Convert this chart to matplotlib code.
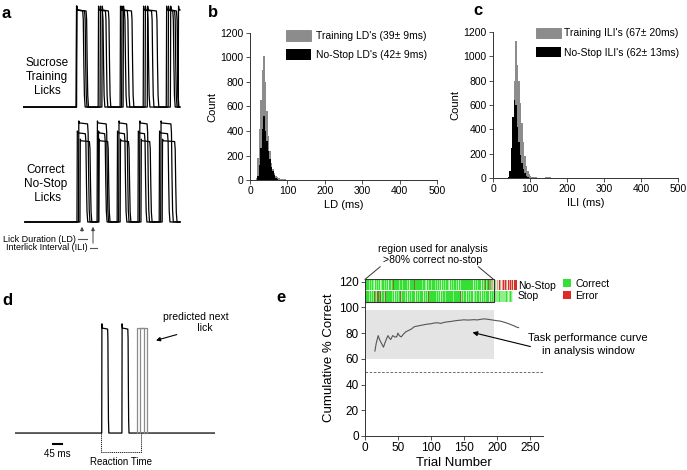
import matplotlib.pyplot as plt
import numpy as np
from matplotlib.patches import Patch, Rectangle

plt.rcParams['font.family'] = ['Liberation Sans', 'DejaVu Sans']

W, H = 687, 470

# ---- panel a: lick traces (ms onsets / offsets) ----
train_onsets = [[143, 202, 261, 323, 385],
                [144, 207, 265, 328, 390],
                [143, 212, 269, 334, 396, 417]]
train_offsets = [[162, 223, 274, 347, 404],
                 [167, 215, 282, 336, 409],
                 [171, 231, 293, 360, 414, 999]]
train_amps = [1.0, 1.0, 1.0]

nostop_onsets = [[149, 199, 257, 313, 370],
                 [145, 202, 253, 309, 366],
                 [153, 204, 261, 317, 374]]
nostop_offsets = [[175, 225, 280, 335, 399],
                  [169, 221, 274, 328, 390],
                  [180, 229, 285, 342, 409]]
nostop_amps = [1.0, 0.9, 0.82]
trace_end_a = 422

# ---- panel b: lick duration histograms (4 ms bins) ----
ld_edges = [16, 20, 24, 28, 32, 36, 40, 44, 48, 52, 56, 60, 64, 68, 72, 76,
            80, 84, 88, 92, 96, 100, 104, 108, 112, 116]
ld_training = [20, 180, 420, 650, 900, 1010, 800, 560, 360, 240, 140, 90, 55,
               35, 22, 15, 10, 8, 6, 5, 4, 3, 2, 2, 1, 1]
ld_nostop = [0, 30, 120, 260, 420, 520, 400, 320, 240, 170, 110, 70, 40, 20,
             8, 3, 1, 0, 0, 0, 0, 0, 0, 0, 0, 0]

# ---- panel c: interlick interval histograms (4 ms bins) ----
ili_edges = [40, 44, 48, 52, 56, 60, 64, 68, 72, 76, 80, 84, 88, 92, 96, 100,
             104, 108, 112, 116, 120, 124, 128, 132, 136, 140, 144, 148, 152, 156]
ili_training = [10, 40, 110, 400, 800, 1130, 930, 800, 620, 450, 300, 180, 100,
                55, 30, 18, 12, 8, 6, 5, 4, 3, 3, 3, 4, 6, 8, 8, 5, 3]
ili_nostop = [5, 60, 250, 500, 640, 600, 420, 300, 190, 120, 70, 40, 20, 8, 3,
              1, 0, 0, 0, 0, 0, 0, 0, 0, 0, 0, 0, 0, 0, 0]

# ---- panel d: example trial ----
d_onsets = [464, 572]
d_offsets = [497, 605]
predicted_onsets = [653, 670]
predicted_offsets = [691, 707]
trace_end_d = 1070
reaction_start, reaction_end = 459, 675

# ---- panel e: performance ----
nostop_cells = ("GLGGWGLGGL" "GGLGWGGLGG" "LGGWGLGGGL" "GGLGGWLGGG" "LGGBGLGGWG"
                "GGLGGGLWGG" "LGGGLGGWGG" "GLGGGBGLGG" "WGGLGGGLGG" "GLGWGGLGGG"
                "LGGGWGLGGL" "GGGLGGWGGL" "GGLGGGLGWG" "GLGGLGGGLG" "GWGGLGGGLG"
                "GLGGBGGLGB" "GGLGWGGLGG" "LGGGLGWGGL" "GGBGLGGBGL" "GPLPWPPLPW"
                "PPWPRPPWPR" "RPRRPRWRRP" "RRPRRWRPRR")
stop_cells = ("GLGGWGLGGL" "GGLGBGBLBG" "BGGBGLGGGL" "GBGLGGWGGB" "GLGGWBGLGG"
              "LGGBGLGBGG" "GLGGWGGLGG" "LGGGLGWGGL" "GGLGGGLGWG" "GLGGLGBGLG"
              "GWGGLGGGLG" "GLGGWGGLGG" "GGLGWGGLGG" "LGGGLGWGGL" "GGLGBGLGGL"
              "GLGWGGLGGG" "LGGGWGLGGL" "GGGLGGWGGL" "GGLGGGLGWG" "GLGGLLWLGL"
              "LWLLGLWLLG" "LLWLGLLWLL" "GLLW")
cell_colors = {'G': '#35e035', 'L': '#8eee88', 'W': '#d4f6cf',
               'B': '#8a6a3c', 'P': '#e8a2a2', 'R': '#e02a2a'}

curve_trials = [15, 17, 20, 22, 24, 26, 28, 30, 33, 35, 37, 39, 42, 45, 48, 50,
                52, 55, 58, 62, 66, 70, 75, 80, 85, 90, 95, 100, 105, 110, 115,
                120, 125, 130, 135, 140, 145, 150, 155, 160, 165, 170, 175, 180,
                185, 190, 195, 200, 205, 210, 215, 220, 225, 230, 233]
curve_pct = [66, 72, 78, 75, 73, 71, 69, 72, 76, 78, 76, 75, 78, 77, 77, 80,
             78, 77, 79, 81, 82, 83, 85, 85.5, 86, 86.5, 87, 87.2, 87.8, 88, 87.5,
             88.3, 88.7, 89, 89.4, 89.8, 90, 90.3, 90.1, 90.2, 90.4, 90.2, 90.6, 91,
             90.8, 90.4, 90, 89.6, 89.3, 88.6, 87.8, 86.8, 85.8, 84.6, 84.2]
window_start, window_end = 0, 195
window_low, window_high = 60, 98
chance = 50


def lick_trace(onsets, offsets, amp, t_end, hook=0.0, t_start=0):
    # square-ish lick pulses: steep rise, small hook at top, rounded fall
    t, y = [t_start], [0]
    for on, off in zip(onsets, offsets):
        if off >= t_end:
            t += [on, on + 1, on + 2.5, t_end]
            y += [0, amp * (1 + hook), amp, amp]
            return t, y
        t += [on, on + 1, on + 2.5, off - 1.5, off, off + 1.5, off + 3, off + 5]
        y += [0, amp * (1 + hook), amp, amp * 0.99, amp * 0.9, amp * 0.45, amp * 0.12, 0]
    t.append(t_end)
    y.append(0)
    return t, y


fig = plt.figure(figsize=(W / 100, H / 100), dpi=100)


def px_axes(left, top, right, bottom):
    return fig.add_axes([left / W, 1 - bottom / H, (right - left) / W, (bottom - top) / H])


# overlay for labels in pixel coordinates
ov = fig.add_axes([0, 0, 1, 1])
ov.set_xlim(0, W)
ov.set_ylim(H, 0)
ov.axis('off')
for letter, (x, y) in zip('abcde', [(2, 18), (208, 17), (473, 15), (2, 305), (276, 302)]):
    ov.text(x, y, letter, fontsize=12, fontweight='bold', ha='left', va='baseline')

ov.text(47, 77, "Sucrose\nTraining\nLicks", fontsize=8.5, ha='center', va='center', linespacing=1.2)
ov.text(46, 184, "Correct\nNo-Stop\n Licks", fontsize=8.5, ha='center', va='center', linespacing=1.2)
ov.text(76, 239, "Lick Duration (LD)", fontsize=6.5, ha='right', va='center')
ov.text(88, 248, "Interlick Interval (ILI)", fontsize=6.5, ha='right', va='center')
ov.plot([78, 87], [239, 239], color='#555', lw=0.8)
ov.plot([90, 97], [248, 248], color='#555', lw=0.8)
ov.annotate('', xy=(82, 224), xytext=(82, 234),
            arrowprops=dict(arrowstyle='-|>', color='#444', lw=0.7, mutation_scale=5))
ov.annotate('', xy=(93, 224), xytext=(93, 246),
            arrowprops=dict(arrowstyle='-|>', color='#444', lw=0.7, mutation_scale=5))

# ---- panel a ----
ax_top = px_axes(23, 0, 183, 115)
for on, off, amp in zip(train_onsets, train_offsets, train_amps):
    t, y = lick_trace(on, off, amp, trace_end_a, hook=0.04)
    ax_top.plot(t, y, color='black', lw=0.9)
ax_top.set_xlim(0, 430)
ax_top.set_ylim(-0.082, 1.103)
ax_top.axis('off')

ax_bot = px_axes(23, 115, 183, 230)
for on, off, amp in zip(nostop_onsets, nostop_offsets, nostop_amps):
    t, y = lick_trace(on, off, amp, trace_end_a, hook=0.02, t_start=5)
    ax_bot.plot(t, y, color='black', lw=0.9)
ax_bot.set_xlim(0, 430)
ax_bot.set_ylim(-0.081, 1.08)
ax_bot.axis('off')


def style_axes(ax, fs):
    for s in ['top', 'right']:
        ax.spines[s].set_visible(False)
    for s in ['left', 'bottom']:
        ax.spines[s].set_linewidth(0.7)
        ax.spines[s].set_color('#333')
    ax.tick_params(direction='out', length=3, width=0.6, labelsize=fs, pad=1.5, color='#333')


# ---- panel b ----
ax_b = px_axes(250, 33, 437, 180)
ax_b.bar(ld_edges, ld_training, width=4, align='edge', color='#8c8c8c', linewidth=0)
ax_b.bar(ld_edges, ld_nostop, width=4, align='edge', color='black', linewidth=0)
ax_b.set_xlim(0, 500)
ax_b.set_ylim(0, 1200)
ax_b.set_xticks([0, 100, 200, 300, 400, 500])
ax_b.set_yticks([0, 200, 400, 600, 800, 1000, 1200])
style_axes(ax_b, 7.5)
ax_b.set_xlabel('LD (ms)', fontsize=8, labelpad=3)
ax_b.set_ylabel('Count', fontsize=8, labelpad=2)
ax_b.legend(handles=[Patch(fc='#8c8c8c', ec='#777', lw=0.5), Patch(fc='black')],
            labels=["Training LD's (39\u00b1 9ms)", "No-Stop LD's (42\u00b1 9ms)"],
            loc='upper left', bbox_to_anchor=(0.19, 1.02), frameon=False, fontsize=7.5,
            handlelength=2.4, handleheight=1.2, labelspacing=0.8, borderaxespad=0,
            borderpad=0, handletextpad=0.5)

# ---- panel c ----
ax_c = px_axes(493, 32, 678, 178)
ax_c.bar(ili_edges, ili_training, width=4, align='edge', color='#8c8c8c', linewidth=0)
ax_c.bar(ili_edges, ili_nostop, width=4, align='edge', color='black', linewidth=0)
ax_c.set_xlim(0, 500)
ax_c.set_ylim(0, 1200)
ax_c.set_xticks([0, 100, 200, 300, 400, 500])
ax_c.set_yticks([0, 200, 400, 600, 800, 1000, 1200])
style_axes(ax_c, 7.5)
ax_c.set_xlabel('ILI (ms)', fontsize=8, labelpad=3)
ax_c.set_ylabel('Count', fontsize=8, labelpad=2)
ax_c.legend(handles=[Patch(fc='#8c8c8c', ec='#777', lw=0.5), Patch(fc='black')],
            labels=["Training ILI's (67\u00b1 20ms)", "No-Stop ILI's (62\u00b1 13ms)"],
            loc='upper left', bbox_to_anchor=(0.23, 1.03), frameon=False, fontsize=7.5,
            handlelength=2.4, handleheight=1.2, labelspacing=0.8, borderaxespad=0,
            borderpad=0, handletextpad=0.3)

# ---- panel d ----
ax_d = px_axes(15, 300, 215, 470)
t, y = lick_trace(d_onsets, d_offsets, 1.0, trace_end_d, hook=0.04)
ax_d.plot(t, y, color='black', lw=0.9)
for on, off in zip(predicted_onsets, predicted_offsets):
    ax_d.plot([on, on, off, off], [0, 1.0, 1.0, 0], color='#8a8a8a', lw=0.9)
ax_d.plot([reaction_start, reaction_start, reaction_end, reaction_end],
          [0, -0.18, -0.18, 0], color='black', lw=0.6, ls=(0, (1.5, 1)))
ax_d.plot([205, 250], [-0.105, -0.105], color='black', lw=1.5)
ax_d.text(227, -0.2, '45 ms', fontsize=7, ha='center', va='center')
ax_d.text(567, -0.28, 'Reaction Time', fontsize=7, ha='center', va='center')
ax_d.text(970, 1.05, 'predicted next\n      lick', fontsize=7.5, ha='center', va='center',
          linespacing=1.1)
ax_d.annotate('', xy=(740, 0.875), xytext=(880, 0.945),
              arrowprops=dict(arrowstyle='-|>', color='black', lw=0.8, mutation_scale=6))
ax_d.set_xlim(0, 1070)
ax_d.set_ylim(-0.352, 1.267)
ax_d.axis('off')

# ---- panel e ----
ax_e = px_axes(365, 279, 543, 436)
ax_e.fill_between([window_start, window_end], window_low, window_high, color='#e4e4e4',
                  linewidth=0, zorder=0)
ax_e.axhline(chance, color='#555', lw=0.6, ls=(0, (3, 2)))
ax_e.plot(curve_trials, curve_pct, color='#555', lw=0.8)
ax_e.bar(np.arange(len(nostop_cells)), 8.4, bottom=113.1, width=1, align='edge',
         color=[cell_colors[c] for c in nostop_cells], linewidth=0)
ax_e.bar(np.arange(len(stop_cells)), 8.4, bottom=104.5, width=1, align='edge',
         color=[cell_colors[c] for c in stop_cells], linewidth=0)
ax_e.add_patch(Rectangle((window_start, 104.4), window_end - window_start, 17.3,
                         fill=False, ec='#333', lw=0.8, zorder=3))
ax_e.plot([0, 23], [121.7, 131.5], color='#333', lw=0.7, clip_on=False)
ax_e.plot([195, 172], [121.7, 131.5], color='#333', lw=0.7, clip_on=False)
ax_e.text(103, 141, 'region used for analysis\n>80% correct no-stop', fontsize=7.5,
          ha='center', va='center', linespacing=1.1)
ax_e.text(232, 116.5, 'No-Stop', fontsize=7.5, ha='left', va='center')
ax_e.text(232, 108.5, 'Stop', fontsize=7.5, ha='left', va='center')
ax_e.text(338, 71, 'Task performance curve\nin analysis window', fontsize=8,
          ha='center', va='center', linespacing=1.3)
ax_e.annotate('', xy=(159, 81), xytext=(255, 69),
              arrowprops=dict(arrowstyle='-|>', color='black', lw=0.8, mutation_scale=7))
ax_e.legend(handles=[Patch(fc='#35e035'), Patch(fc='#e02a2a')], labels=['Correct', 'Error'],
            loc='upper left', bbox_to_anchor=(1.11, 1.0), frameon=False, fontsize=7.5,
            handlelength=0.8, handleheight=0.8, labelspacing=0.2, borderaxespad=0,
            borderpad=0, handletextpad=0.4)
ax_e.set_xlim(0, 270)
ax_e.set_ylim(0, 122)
ax_e.set_xticks([0, 50, 100, 150, 200, 250])
ax_e.set_yticks([0, 20, 40, 60, 80, 100, 120])
style_axes(ax_e, 8.5)
ax_e.set_xlabel('Trial Number', fontsize=9.5, labelpad=2)
ax_e.set_ylabel('Cumulative % Correct', fontsize=9.5, labelpad=3)

fig.savefig('out.png', dpi=100)
